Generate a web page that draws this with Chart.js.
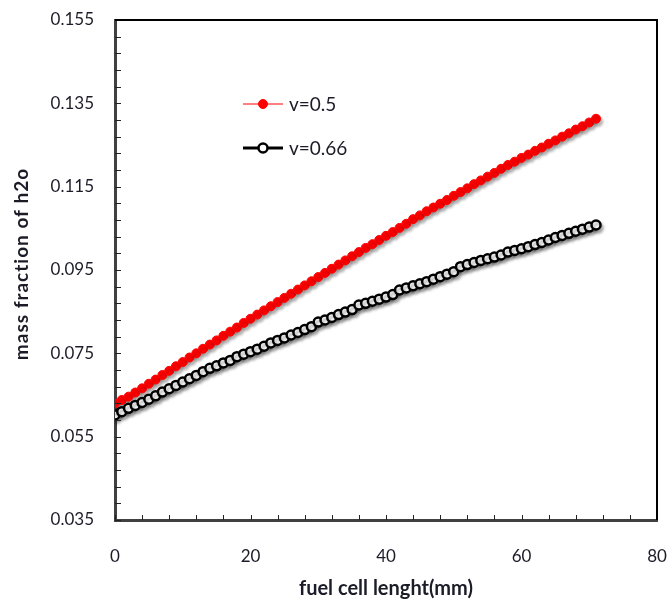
<!DOCTYPE html>
<html>
<head>
    <title>mass fraction of h2o</title>
    <script src="https://cdn.jsdelivr.net/npm/chart.js"></script>
    <style>
        html, body { margin: 0; padding: 0; background: #fff; }
        #wrap { width: 668px; height: 605px; }
    </style>
</head>
<body>
    <div id="wrap"><canvas id="h2oChart" width="668" height="605"></canvas></div>

    <script>
        // fuel cell length, mm
        const lengthMm = [0, 1, 2, 3, 4, 5, 6, 7, 8, 9, 10, 11, 12, 13, 14, 15, 16, 17, 18, 19,
            20, 21, 22, 23, 24, 25, 26, 27, 28, 29, 30, 31, 32, 33, 34, 35, 36, 37, 38, 39,
            40, 41, 42, 43, 44, 45, 46, 47, 48, 49, 50, 51, 52, 53, 54, 55, 56, 57, 58, 59,
            60, 61, 62, 63, 64, 65, 66, 67, 68, 69, 70, 71];

        // v=0.5
        const h2oV05 = [0.0630, 0.0638, 0.0646, 0.0656, 0.0666, 0.0677, 0.0687, 0.0698, 0.0708, 0.0719,
            0.0729, 0.0740, 0.0750, 0.0761, 0.0771, 0.0781, 0.0792, 0.0802, 0.0812, 0.0823,
            0.0833, 0.0843, 0.0853, 0.0863, 0.0873, 0.0883, 0.0893, 0.0903, 0.0913, 0.0923,
            0.0933, 0.0943, 0.0953, 0.0963, 0.0973, 0.0983, 0.0993, 0.1003, 0.1012, 0.1022,
            0.1032, 0.1041, 0.1051, 0.1061, 0.1072, 0.1081, 0.1091, 0.1100, 0.1109, 0.1118,
            0.1128, 0.1137, 0.1146, 0.1156, 0.1165, 0.1174, 0.1183, 0.1193, 0.1202, 0.1210,
            0.1219, 0.1227, 0.1236, 0.1244, 0.1253, 0.1261, 0.1270, 0.1278, 0.1287, 0.1295,
            0.1304, 0.1313];

        // v=0.66
        const h2oV066 = [0.0602, 0.0610, 0.0618, 0.0625, 0.0632, 0.0640, 0.0648, 0.0657, 0.0665, 0.0673,
            0.0681, 0.0689, 0.0697, 0.0706, 0.0714, 0.0720, 0.0727, 0.0733, 0.0742, 0.0748,
            0.0754, 0.0760, 0.0767, 0.0775, 0.0781, 0.0787, 0.0794, 0.0800, 0.0807, 0.0814,
            0.0825, 0.0830, 0.0836, 0.0843, 0.0849, 0.0855, 0.0866, 0.0870, 0.0875, 0.0880,
            0.0885, 0.0891, 0.0902, 0.0907, 0.0912, 0.0917, 0.0922, 0.0928, 0.0934, 0.0940,
            0.0946, 0.0958, 0.0963, 0.0968, 0.0973, 0.0977, 0.0981, 0.0986, 0.0993, 0.0997,
            0.1001, 0.1006, 0.1011, 0.1016, 0.1022, 0.1028, 0.1033, 0.1038, 0.1043, 0.1048,
            0.1053, 0.1058];

        const xTickLabels = ['0', '20', '40', '60', '80'];
        const yTickLabels = ['0.035', '0.055', '0.075', '0.095', '0.115', '0.135', '0.155'];
        const seriesNames = ['v=0.5', 'v=0.66'];
        const yTitle = 'mass fraction of h2o';
        const xTitle = 'fuel cell lenght(mm)';

        const labelFor = (list, v) => {
            const hit = list.find(t => Math.abs(parseFloat(t) - v) < 1e-6);
            return hit === undefined ? '' : hit;
        };

        const tickFont = { family: 'Lato', size: 17 };
        const textColor = '#1c1c28';

        // inward tick marks + frame on top/right + y title
        const frameTicks = {
            id: 'frameTicks',
            afterDraw(chart) {
                const { ctx, chartArea: a, scales } = chart;
                ctx.save();
                ctx.strokeStyle = '#222';
                ctx.lineWidth = 1;
                scales.x.ticks.forEach(t => {
                    const px = Math.round(scales.x.getPixelForValue(t.value)) + 0.5;
                    ctx.beginPath();
                    ctx.moveTo(px, a.bottom);
                    ctx.lineTo(px, a.bottom - 5);
                    ctx.stroke();
                });
                scales.y.ticks.forEach(t => {
                    const py = Math.round(scales.y.getPixelForValue(t.value)) + 0.5;
                    ctx.beginPath();
                    ctx.moveTo(a.left, py);
                    ctx.lineTo(a.left + 6, py);
                    ctx.stroke();
                });
                ctx.strokeStyle = '#000';
                ctx.lineWidth = 2;
                ctx.beginPath();
                ctx.moveTo(a.left, a.top);
                ctx.lineTo(a.right, a.top);
                ctx.lineTo(a.right, a.bottom);
                ctx.stroke();

                // rotated y title, slightly spaced like the original
                ctx.translate(22, (a.top + a.bottom) / 2 - 6);
                ctx.rotate(-Math.PI / 2);
                ctx.letterSpacing = '1px';
                ctx.font = 'bold 19px Lato';
                ctx.fillStyle = textColor;
                ctx.textAlign = 'center';
                ctx.textBaseline = 'middle';
                ctx.fillText(yTitle, 0, 0);
                ctx.restore();
            }
        };

        // soft shadow under the series
        const seriesShadow = {
            id: 'seriesShadow',
            beforeDatasetsDraw(chart) {
                const ctx = chart.ctx;
                ctx.save();
                ctx.shadowColor = 'rgba(0,0,0,0.30)';
                ctx.shadowBlur = 3;
                ctx.shadowOffsetX = 2;
                ctx.shadowOffsetY = 3;
            },
            afterDatasetsDraw(chart) {
                chart.ctx.restore();
            }
        };

        // legend drawn inside the plot, line + marker like the original
        const innerLegend = {
            id: 'innerLegend',
            afterDraw(chart) {
                const { ctx, chartArea: a } = chart;
                const rows = [
                    { ds: chart.data.datasets[0], y: a.top + 84 },
                    { ds: chart.data.datasets[1], y: a.top + 128 }
                ];
                ctx.save();
                rows.forEach(r => {
                    const x0 = a.left + 128, x1 = a.left + 168, xm = (x0 + x1) / 2;
                    ctx.strokeStyle = r.ds.borderColor;
                    ctx.lineWidth = r.ds.borderWidth;
                    ctx.beginPath();
                    ctx.moveTo(x0, r.y);
                    ctx.lineTo(x1, r.y);
                    ctx.stroke();
                    ctx.beginPath();
                    ctx.arc(xm, r.y, r.ds.pointRadius, 0, Math.PI * 2);
                    ctx.fillStyle = r.ds.pointBackgroundColor;
                    ctx.fill();
                    ctx.lineWidth = r.ds.pointBorderWidth;
                    ctx.strokeStyle = r.ds.pointBorderColor;
                    ctx.stroke();
                    ctx.fillStyle = textColor;
                    ctx.font = '19px Lato';
                    ctx.textBaseline = 'middle';
                    ctx.fillText(r.ds.label, x1 + 6, r.y + 1);
                });
                ctx.restore();
            }
        };

        const ctx = document.getElementById('h2oChart').getContext('2d');
        new Chart(ctx, {
            type: 'line',
            data: {
                datasets: [{
                    label: seriesNames[0],
                    data: lengthMm.map((x, i) => ({ x: x, y: h2oV05[i] })),
                    borderColor: '#ff0000',
                    borderWidth: 1,
                    pointRadius: 4.5,
                    pointBackgroundColor: '#ff0000',
                    pointBorderColor: '#ff0000',
                    pointBorderWidth: 1,
                    order: 1
                }, {
                    label: seriesNames[1],
                    data: lengthMm.map((x, i) => ({ x: x, y: h2oV066[i] })),
                    borderColor: '#000000',
                    borderWidth: 3,
                    pointRadius: 4.5,
                    pointBackgroundColor: '#ffffff',
                    pointBorderColor: '#000000',
                    pointBorderWidth: 2.5,
                    order: 0
                }]
            },
            options: {
                responsive: false,
                animation: false,
                layout: { padding: { top: 20, right: 11, left: 0, bottom: 0 } },
                plugins: {
                    legend: { display: false },
                    tooltip: { enabled: false }
                },
                scales: {
                    x: {
                        type: 'linear',
                        min: 0,
                        max: 80,
                        afterFit(scale) {
                            scale.height = 85;
                            scale.paddingLeft = 0;
                            scale.paddingRight = 0;
                        },
                        border: { display: true, color: '#404040', width: 3 },
                        grid: { display: true, drawOnChartArea: false, drawTicks: false },
                        ticks: {
                            stepSize: 4,
                            autoSkip: false,
                            maxRotation: 0,
                            padding: 26,
                            color: textColor,
                            font: tickFont,
                            callback: v => labelFor(xTickLabels, v)
                        },
                        title: {
                            display: true,
                            text: xTitle,
                            color: textColor,
                            font: { family: 'Lato', size: 20, weight: 'bold' },
                            padding: { top: 0, bottom: 4 }
                        }
                    },
                    y: {
                        type: 'linear',
                        min: 0.035,
                        max: 0.155,
                        afterFit(scale) {
                            scale.width = 115;
                            scale.paddingTop = 0;
                            scale.paddingBottom = 0;
                        },
                        border: { display: true, color: '#404040', width: 3 },
                        grid: { display: true, drawOnChartArea: false, drawTicks: false },
                        ticks: {
                            stepSize: 0.004,
                            autoSkip: false,
                            padding: 21,
                            color: textColor,
                            font: tickFont,
                            callback: v => labelFor(yTickLabels, v)
                        }
                    }
                }
            },
            plugins: [seriesShadow, frameTicks, innerLegend]
        });
    </script>
</body>
</html>
